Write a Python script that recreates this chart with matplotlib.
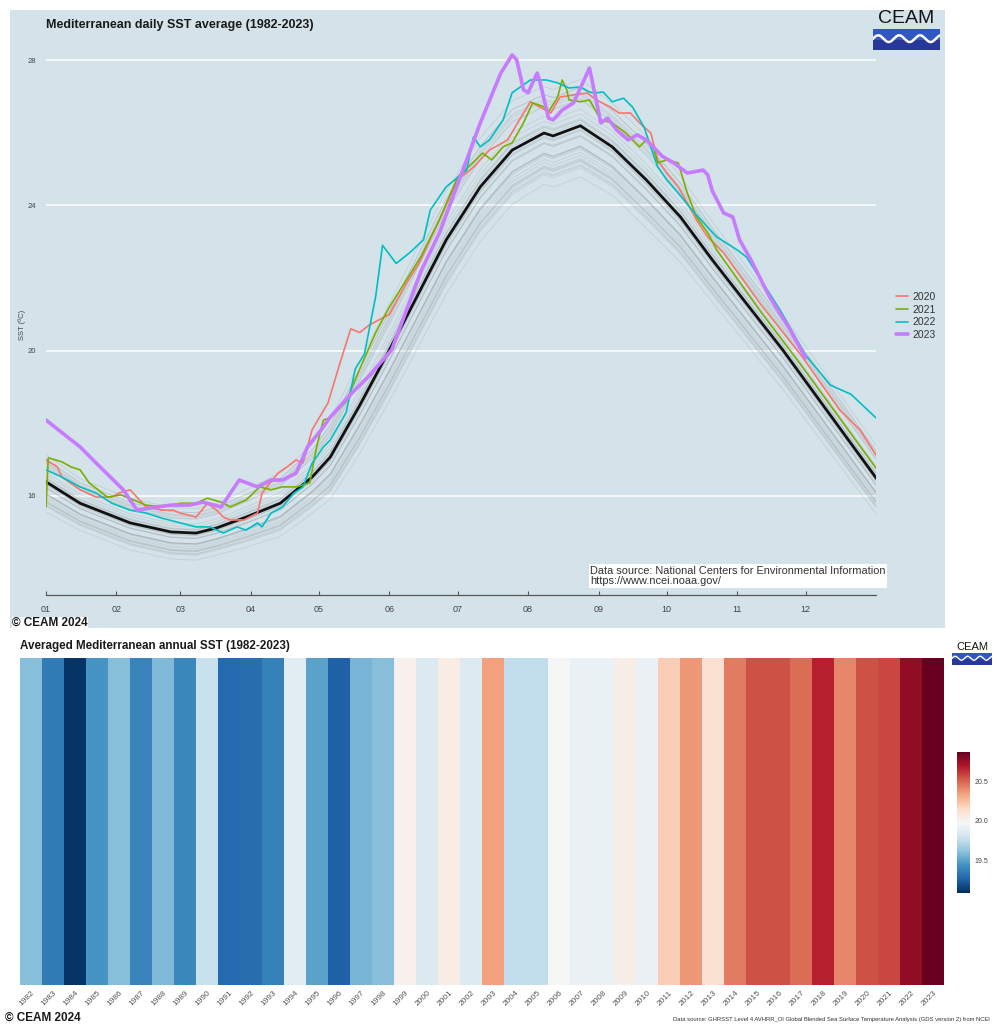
import numpy as np
import matplotlib
matplotlib.use("Agg")
import matplotlib.pyplot as plt
from matplotlib.patches import Rectangle

plt.rcParams['font.family'] = ['Liberation Sans', 'DejaVu Sans']

W, H = 998, 1026

# daily climatology 1982-2023 (black line): day of year, SST
clim_days = [1, 16, 38, 56, 67, 76, 89, 104, 118, 126, 139, 152, 177, 192, 206, 220,
             224, 236, 250, 265, 280, 294, 325, 366]
clim_sst = [16.39, 15.80, 15.26, 15.01, 14.98, 15.12, 15.42, 15.80, 16.52, 17.07, 18.50,
            20.02, 23.05, 24.51, 25.52, 25.99, 25.91, 26.19, 25.61, 24.70, 23.68, 22.50,
            20.02, 16.50]
# how wide the grey band of single years opens up around the mean, per climatology point
gray_gain = [1.0, 0.9, 0.9, 0.9, 0.9, 0.9, 1.0, 1.1, 1.2, 1.4, 1.6, 1.7, 1.8, 1.8, 1.8,
             1.7, 1.7, 1.7, 1.6, 1.6, 1.5, 1.4, 1.3, 1.2]

days_2020 = [1, 6, 8, 16, 23, 30, 33, 38, 45, 52, 57, 60, 67, 72, 76, 79, 82, 88, 94, 96,
             103, 107, 111, 114, 118, 125, 130, 135, 139, 143, 152, 159, 165, 174, 182,
             189, 196, 204, 211, 214, 218, 223, 227, 233, 239, 243, 249, 253, 258, 262,
             267, 270, 274, 279, 283, 287, 292, 299, 315, 333, 350, 359, 366]
sst_2020 = [16.99, 16.80, 16.52, 16.17, 15.97, 15.97, 16.08, 16.17, 15.70, 15.61, 15.61,
            15.53, 15.42, 15.80, 15.61, 15.42, 15.34, 15.34, 15.53, 16.08, 16.63, 16.80,
            16.99, 16.91, 17.82, 18.56, 19.60, 20.60, 20.50, 20.70, 21.00, 21.80, 22.40,
            23.60, 24.70, 25.05, 25.52, 25.80, 26.54, 26.85, 26.71, 26.54, 26.98, 27.04,
            27.09, 26.90, 26.71, 26.54, 26.54, 26.27, 25.99, 25.25, 24.89, 24.51, 24.07,
            23.60, 23.13, 22.69, 21.30, 19.88, 18.37, 17.82, 17.13]

days_2021 = [1, 2, 8, 12, 16, 20, 28, 34, 45, 52, 60, 67, 72, 78, 82, 89, 95, 100, 105,
             111, 117, 120, 123, 126, 133, 139, 146, 152, 159, 166, 174, 182, 190, 193,
             197, 202, 206, 211, 215, 220, 222, 226, 228, 230, 231, 236, 240, 245, 250,
             256, 262, 265, 268, 270, 274, 279, 283, 287, 292, 296, 315, 333, 366]
sst_2021 = [15.70, 17.05, 16.94, 16.80, 16.72, 16.36, 15.97, 16.03, 15.75, 15.70, 15.80,
            15.80, 15.94, 15.83, 15.70, 15.89, 16.25, 16.17, 16.25, 16.25, 16.36, 17.35,
            18.09, 18.15, 18.60, 19.50, 20.50, 21.20, 21.90, 22.60, 23.60, 24.78, 25.25,
            25.44, 25.25, 25.61, 25.72, 26.27, 26.82, 26.71, 26.57, 26.98, 27.45, 27.18,
            26.90, 26.85, 26.90, 26.35, 26.27, 25.99, 25.61, 25.80, 25.61, 25.17, 25.25,
            25.17, 24.34, 23.68, 23.24, 22.77, 21.10, 19.61, 16.77]

days_2022 = [1, 8, 16, 23, 30, 38, 45, 52, 60, 67, 73, 79, 85, 89, 94, 96, 100, 105, 110,
             114, 118, 123, 126, 133, 137, 141, 146, 149, 155, 161, 167, 170, 177, 186,
             189, 192, 196, 202, 206, 214, 221, 226, 231, 236, 240, 242, 246, 250, 255,
             259, 264, 267, 270, 274, 279, 284, 289, 296, 305, 309, 324, 335, 346, 355, 366]
sst_2022 = [16.72, 16.52, 16.25, 16.08, 15.80, 15.61, 15.53, 15.39, 15.26, 15.15, 15.15,
            14.98, 15.15, 15.06, 15.26, 15.15, 15.53, 15.70, 16.08, 16.25, 16.90, 17.35,
            17.54, 18.30, 19.50, 19.90, 21.50, 22.90, 22.40, 22.70, 23.05, 23.87, 24.51,
            24.97, 25.88, 25.61, 25.80, 26.35, 27.10, 27.45, 27.45, 27.37, 27.23, 27.26,
            27.12, 27.09, 27.12, 26.85, 26.95, 26.70, 26.15, 25.60, 25.06, 24.70, 24.34,
            23.95, 23.60, 23.13, 22.77, 22.58, 21.10, 19.88, 19.05, 18.80, 18.15]

days_2023 = [1, 16, 23, 35, 41, 50, 56, 64, 70, 78, 86, 94, 100, 105, 111, 116, 122, 126,
             135, 143, 153, 166, 174, 186, 192, 201, 206, 208, 211, 213, 217, 218, 222,
             224, 228, 233, 239, 240, 245, 248, 252, 257, 261, 265, 272, 277, 283, 290,
             292, 294, 299, 303, 306, 311, 319, 328, 335]
sst_2023 = [18.09, 17.35, 16.91, 16.17, 15.61, 15.70, 15.75, 15.75, 15.83, 15.70, 16.44,
            16.25, 16.44, 16.44, 16.63, 17.35, 17.82, 18.17, 18.80, 19.30, 20.02, 22.20,
            23.24, 25.25, 26.27, 27.64, 28.14, 28.00, 27.18, 27.10, 27.64, 27.45, 26.40,
            26.35, 26.62, 26.82, 27.64, 27.78, 26.27, 26.40, 26.07, 25.80, 25.94, 25.80,
            25.35, 25.17, 24.89, 24.97, 24.84, 24.40, 23.79, 23.68, 23.05, 22.50, 21.50,
            20.60, 19.80]

month_days = [1, 32, 60, 91, 121, 152, 182, 213, 244, 274, 305, 335]
month_labels = ['01', '02', '03', '04', '05', '06', '07', '08', '09', '10', '11', '12']

# averaged annual SST (heat stripes)
years = list(range(1982, 2024))
annual_sst = [19.60, 19.35, 19.10, 19.45, 19.60, 19.38, 19.58, 19.40, 19.78, 19.28,
              19.30, 19.37, 19.88, 19.50, 19.25, 19.56, 19.60, 20.02, 19.85, 20.05,
              19.86, 20.35, 19.76, 19.76, 19.98, 19.93, 19.92, 20.03, 19.93, 20.20,
              20.37, 20.12, 20.45, 20.55, 20.55, 20.48, 20.68, 20.42, 20.55, 20.58,
              20.78, 20.88]

highlight = [(2020, days_2020, sst_2020, '#f8766d', 1.2),
             (2021, days_2021, sst_2021, '#7cae00', 1.2),
             (2022, days_2022, sst_2022, '#00bfc4', 1.2),
             (2023, days_2023, sst_2023, '#c77cff', 2.6)]


def fig_rect(x0, y0, x1, y1):
    # pixel box (top-left origin) -> figure fraction rect
    return [x0 / W, 1 - y1 / H, (x1 - x0) / W, (y1 - y0) / H]


def draw_logo(rect, fs, lw):
    lax = fig.add_axes(rect)
    lax.set_xlim(0, 1)
    lax.set_ylim(0, 1)
    lax.axis('off')
    lax.text(0.5, 0.74, 'CEAM', ha='center', va='center', fontsize=fs, color='#151515')
    lax.add_patch(Rectangle((0, 0.25), 1, 0.25, color='#3157c0', lw=0))
    lax.add_patch(Rectangle((0, 0), 1, 0.25, color='#27389a', lw=0))
    xs = np.linspace(0, 1, 200)
    lax.plot(xs, 0.27 + 0.08 * np.sin(xs * 2 * np.pi * 3.2), color='white', lw=lw)


fig = plt.figure(figsize=(W / 100, H / 100), dpi=100)

# top panel background
bg = fig.add_axes(fig_rect(10, 10, 945, 628))
bg.set_facecolor('#d4e3e9')
bg.set_xticks([])
bg.set_yticks([])
for s in bg.spines.values():
    s.set_visible(False)

ax = fig.add_axes(fig_rect(46, 20, 876, 595))
ax.set_facecolor('none')
ax.set_xlim(1, 366)
ax.set_ylim(16 - 99 / 36.33, 28 + 40 / 36.33)

clim = np.array(clim_sst)
anom = np.array(annual_sst) - np.mean(annual_sst)
for i, yr in enumerate(years[:-4]):
    ax.plot(clim_days, clim + anom[i] * np.array(gray_gain), color='#7d8489',
            lw=0.6, alpha=0.2, zorder=2)
ax.plot(clim_days, clim_sst, color='#111111', lw=2.0, zorder=3)
for yr, d, v, c, lw in highlight:
    ax.plot(d, v, color=c, lw=lw, label=str(yr), zorder=4, solid_capstyle='round')

ax.set_yticks([16, 20, 24, 28])
ax.yaxis.grid(True, color='white', lw=1.1)
ax.set_axisbelow(True)
ax.tick_params(axis='y', length=0, labelsize=5.5, labelcolor='#444444', pad=7)
ax.set_xticks(month_days)
ax.set_xticklabels(month_labels)
ax.tick_params(axis='x', direction='in', length=3, width=0.8, color='#555555',
               labelsize=6.5, labelcolor='#444444', pad=7)
for side in ['top', 'right', 'left']:
    ax.spines[side].set_visible(False)
ax.spines['bottom'].set_color('#555555')
ax.spines['bottom'].set_linewidth(0.9)

fig.text(22 / W, 1 - 325 / H, 'SST (ºC)', rotation=90, ha='center', va='center',
         fontsize=5.5, color='#444444')
fig.text(46 / W, 1 - 25 / H, 'Mediterranean daily SST average (1982-2023)',
         fontsize=9, fontweight='bold', color='#1a1a1a', va='center')

fig.legend(loc='center left', bbox_to_anchor=(887 / W, 1 - 316 / H), frameon=False,
           fontsize=7.5, handlelength=1.1, handletextpad=0.4, labelspacing=0.25,
           labelcolor='#333333')

fig.text(590 / W, 1 - 576 / H,
         'Data source: National Centers for Environmental Information\nhttps://www.ncei.noaa.gov/',
         fontsize=7.9, color='#333333', va='center', linespacing=1.05,
         bbox=dict(facecolor='white', edgecolor='none', pad=1.0))
fig.text(12 / W, 1 - 623 / H, '© CEAM 2024', fontsize=8.5, fontweight='bold',
         color='#1a1a1a', va='center',
         bbox=dict(facecolor='white', edgecolor='none', pad=0.3))
draw_logo(fig_rect(873, 8, 940, 50), 14, 1.8)

# bottom panel: annual stripes
fig.text(20 / W, 1 - 646 / H, 'Averaged Mediterranean annual SST (1982-2023)',
         fontsize=8.4, fontweight='bold', color='#1a1a1a', va='center')
ax2 = fig.add_axes(fig_rect(20, 658, 944, 985))
im = ax2.imshow(np.array(annual_sst)[None, :], aspect='auto', cmap='RdBu_r',
                vmin=19.08, vmax=20.88, extent=(-0.5, len(years) - 0.5, 0, 1),
                interpolation='nearest')
ax2.set_yticks([])
ax2.set_xticks(range(len(years)))
ax2.set_xticklabels([str(y) for y in years], rotation=45, ha='right',
                    rotation_mode='anchor', fontsize=6, color='#555555')
ax2.tick_params(axis='x', length=0, pad=3)
for s in ax2.spines.values():
    s.set_visible(False)

cax = fig.add_axes(fig_rect(957, 752, 970, 893))
cb = fig.colorbar(im, cax=cax, ticks=[19.5, 20.0, 20.5], format='%.1f')
cb.outline.set_visible(False)
cax.tick_params(labelsize=5, length=0, labelcolor='#444444', pad=3)

draw_logo(fig_rect(952, 640, 992, 665), 8, 1.0)

fig.text(5 / W, 1 - 1018 / H, '© CEAM 2024', fontsize=8.5, fontweight='bold',
         color='#1a1a1a', va='center')
fig.text(990 / W, 1 - 1020 / H,
         'Data source: GHRSST Level 4 AVHRR_OI Global Blended Sea Surface Temperature '
         'Analysis (GDS version 2) from NCEI',
         fontsize=4.2, color='#333333', ha='right', va='center')

fig.savefig('out.png', dpi=100)
